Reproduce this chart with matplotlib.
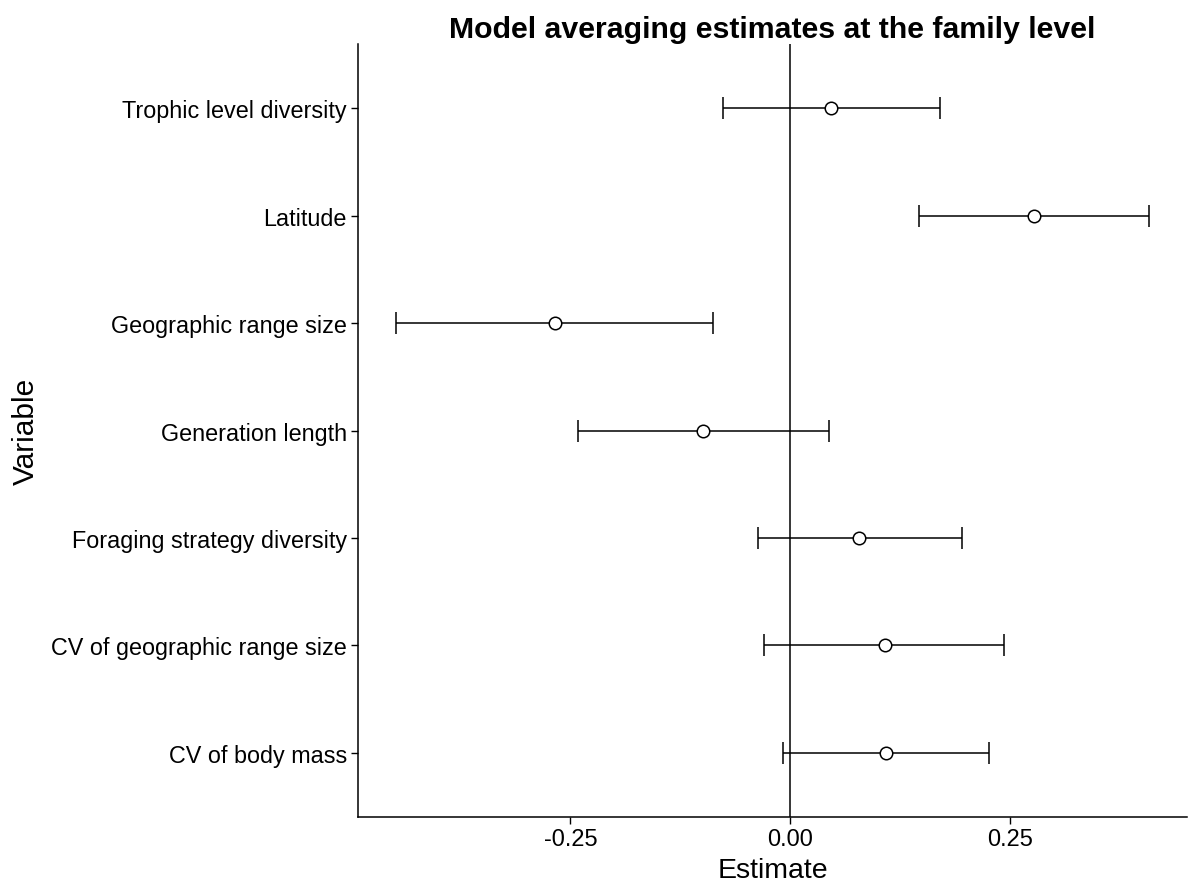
import numpy as np
import matplotlib
matplotlib.use("Agg")
import matplotlib.pyplot as plt

plt.rcParams['font.family'] = ['Liberation Sans', 'DejaVu Sans']

# variables, listed from bottom to top
variables = ["CV of body mass", "CV of geographic range size", "Foraging strategy diversity",
             "Generation length", "Geographic range size", "Latitude", "Trophic level diversity"]
estimate = [0.109, 0.108, 0.079, -0.099, -0.268, 0.278, 0.047]
lower = [-0.008, -0.030, -0.036, -0.242, -0.449, 0.147, -0.076]
upper = [0.226, 0.244, 0.196, 0.044, -0.088, 0.409, 0.171]
xticks = [-0.25, 0.0, 0.25]
xticklabels = ["-0.25", "0.00", "0.25"]

est = np.array(estimate)
lo = np.array(lower)
hi = np.array(upper)
ypos = np.arange(1, len(variables) + 1)

fig = plt.figure(figsize=(11.9, 8.95), dpi=100)
ax = fig.add_axes([358/1190, 1 - 818/895, (1187-358)/1190, (818-45)/895])

# zero reference line
ax.axvline(0, color='black', linewidth=1.1, zorder=1)
ax.errorbar(est, ypos, xerr=[est - lo, hi - est], fmt='none', ecolor='black',
            elinewidth=1.1, capsize=8, capthick=1.1, zorder=2)
ax.plot(est, ypos, 'o', ms=9, mfc='white', mec='black', mew=1.1, zorder=3)

# ggplot-like expansion
rng = hi.max() - lo.min()
ax.set_xlim(lo.min() - 0.05*rng, hi.max() + 0.05*rng)
ax.set_ylim(0.4, len(variables) + 0.6)

ax.set_yticks(ypos)
ax.set_yticklabels(variables, fontsize=16.8)
ax.set_xticks(xticks)
ax.set_xticklabels(xticklabels, fontsize=17)
ax.tick_params(direction='out', length=5, width=1, colors='black', pad=3)

for s in ['top', 'right']:
    ax.spines[s].set_visible(False)
for s in ['left', 'bottom']:
    ax.spines[s].set_linewidth(1.1)

ax.set_xlabel("Estimate", fontsize=20.5, labelpad=5)
ax.set_ylabel("Variable", fontsize=21.5)
ax.yaxis.set_label_coords((40 - 358) / 829, 0.5)
ax.set_title("Model averaging estimates at the family level", fontsize=21.8, fontweight='bold', pad=5)

fig.savefig("out.png", dpi=100)
